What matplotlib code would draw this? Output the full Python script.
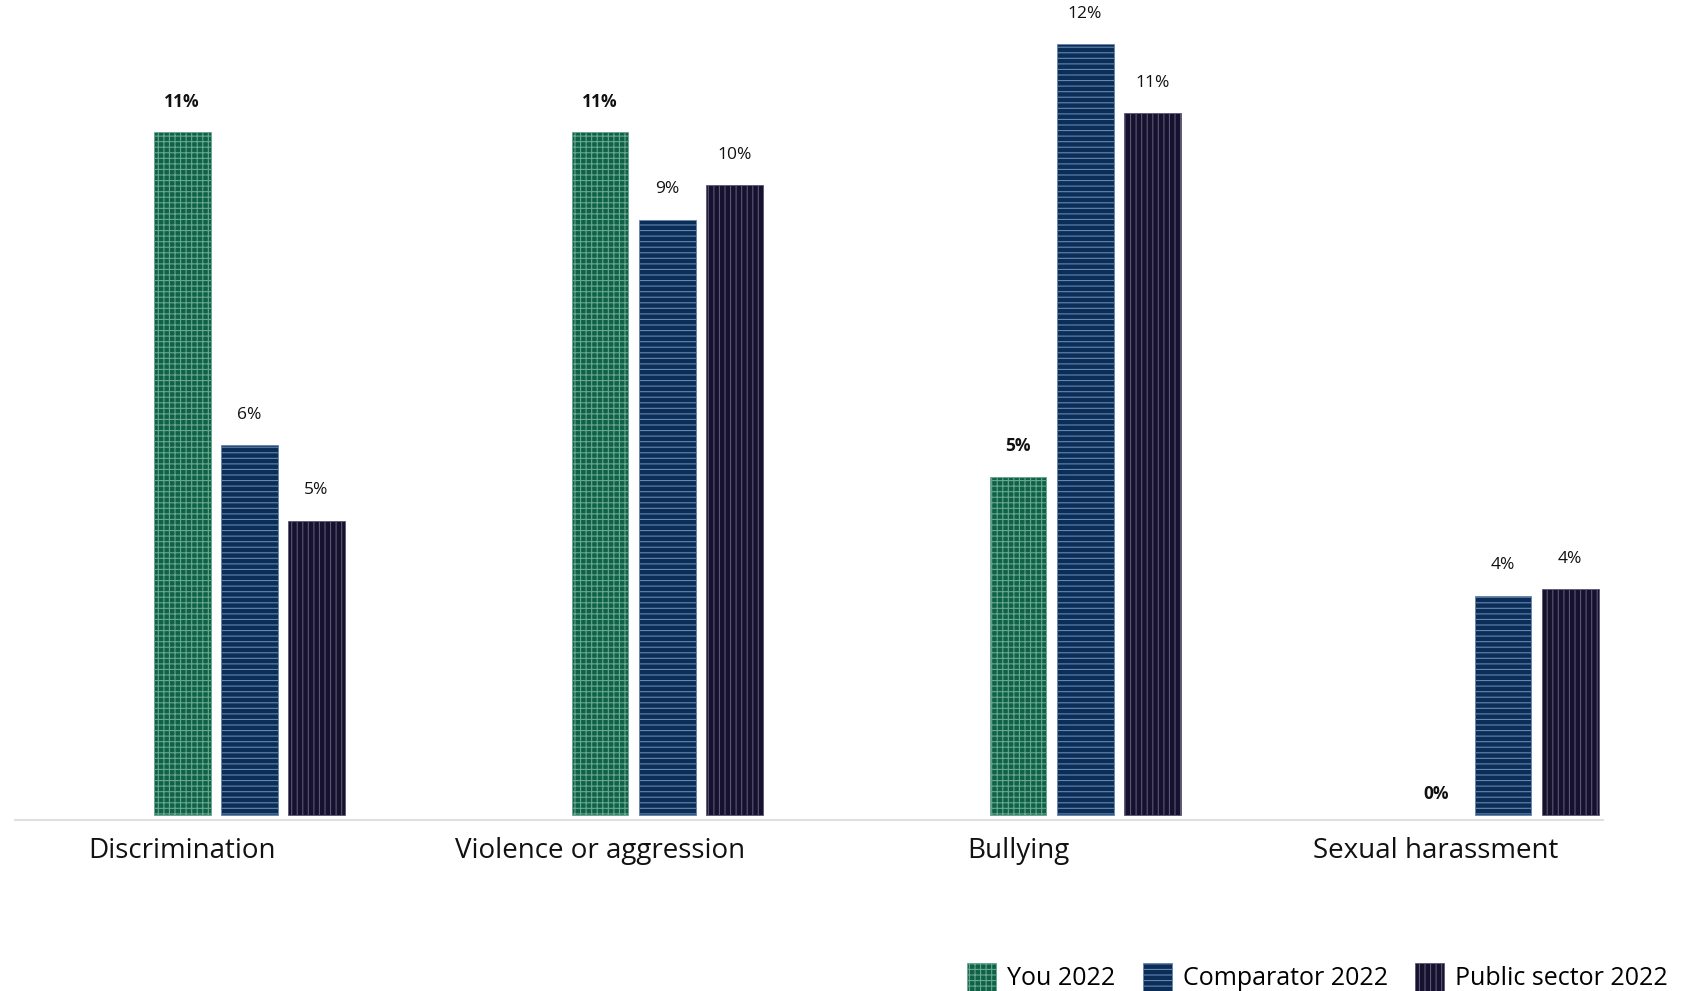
import numpy as np
import matplotlib.pyplot as plt
from matplotlib.patches import Patch

plt.rcParams['font.family'] = ['Open Sans', 'DejaVu Sans']
plt.rcParams['hatch.linewidth'] = 0.8

# Data
categories = ["Discrimination", "Violence or aggression", "Bullying", "Sexual harassment"]
series = ["You 2022", "Comparator 2022", "Public sector 2022"]
you = [10.9, 10.9, 5.4, 0.0]
comparator = [5.9, 9.5, 12.3, 3.5]
public_sector = [4.7, 10.05, 11.2, 3.6]
you_labels = ["11%", "11%", "5%", "0%"]
comparator_labels = ["6%", "9%", "12%", "4%"]
public_labels = ["5%", "10%", "11%", "4%"]

face_colors = ["#0e6248", "#0b2e58", "#16122d"]
hatch_colors = ["#6aa68f", "#6686ad", "#5c5676"]
hatches = ["+++", "---", "|||"]

fig = plt.figure(figsize=(16.85, 9.91), dpi=100)
ax = fig.add_axes([15 / 1685, 1 - 820 / 991, 1588 / 1685, 820 / 991])

x = np.arange(len(categories))
width = 0.136
step = 0.1607
values = [you, comparator, public_sector]
labels = [you_labels, comparator_labels, public_labels]

for i, (vals, labs) in enumerate(zip(values, labels)):
    lw = [0 if v == 0 else 0.6 for v in vals]
    bars = ax.bar(x + i * step, vals, width, color=face_colors[i],
                  edgecolor=hatch_colors[i], hatch=hatches[i], linewidth=lw)
    for b, lab in zip(bars, labs):
        off = 22 if b.get_height() > 0 else 15
        ax.annotate(lab, (b.get_x() + b.get_width() / 2, b.get_height()),
                    xytext=(0, off), textcoords="offset points",
                    ha="center", va="center", fontsize=12.5,
                    fontweight="bold" if i == 0 else "normal",
                    color="#111111")

ax.set_xlim(-0.4, 3.4)
ax.set_ylim(-0.08, 13.01)
ax.set_xticks(x)
ax.set_xticklabels(categories, fontsize=20, color="#111111")
ax.tick_params(axis="x", length=0, pad=12)
ax.set_yticks([])
for s in ["top", "left", "right"]:
    ax.spines[s].set_visible(False)
ax.spines["bottom"].set_color("#e0e0e0")
ax.spines["bottom"].set_linewidth(1.5)

handles = [Patch(facecolor=face_colors[i], edgecolor=hatch_colors[i],
                 hatch=hatches[i], linewidth=0.6, label=series[i])
           for i in range(3)]
fig.legend(handles=handles, loc="lower right", bbox_to_anchor=(0.99, 0.0),
           ncol=3, frameon=False, fontsize=18, handlelength=1.15,
           handleheight=1.35, handletextpad=0.45, columnspacing=1.1,
           borderpad=0, borderaxespad=0)

fig.savefig("out.png", dpi=100)
